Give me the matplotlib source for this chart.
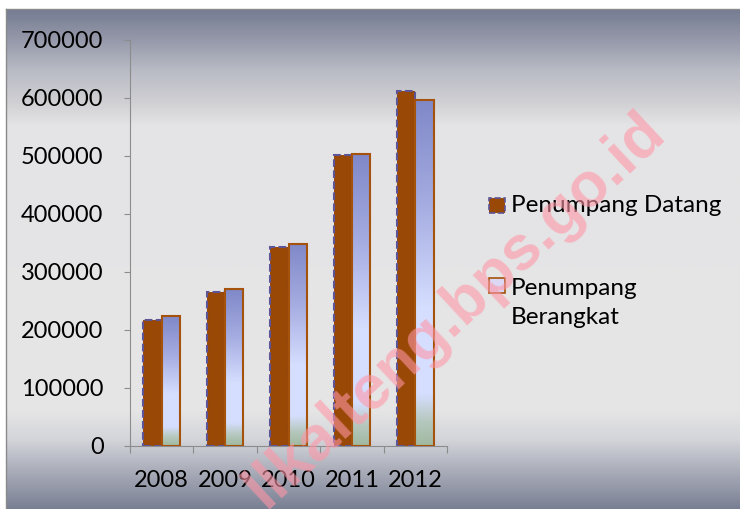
import numpy as np
import matplotlib.pyplot as plt
from matplotlib.patches import Rectangle
from matplotlib.lines import Line2D

years = ['2008', '2009', '2010', '2011', '2012']
datang = [218000, 265000, 343000, 501000, 612000]
berangkat = [224000, 270000, 349000, 503000, 596000]
yticks = [0, 100000, 200000, 300000, 400000, 500000, 600000, 700000]

plt.rcParams['font.family'] = ['Lato', 'DejaVu Sans']

W, H = 740, 509
fig = plt.figure(figsize=(W / 100, H / 100), dpi=100)


def vgrad(stops, n=256):
    """vertical gradient image, stops given top -> bottom"""
    pos = [s[0] for s in stops]
    cols = np.array([s[1] for s in stops], float) / 255
    t = np.linspace(0, 1, n)
    rgb = np.stack([np.interp(t, pos, cols[:, i]) for i in range(3)], axis=1)
    return rgb[:, None, :]


# chart background
bg = fig.add_axes([6 / W, 0, 734 / W, 500 / H], zorder=0)
bg.imshow(vgrad([(0.0, (118, 124, 146)), (0.062, (150, 154, 170)),
                 (0.122, (185, 187, 197)), (0.182, (207, 207, 211)),
                 (0.232, (228, 228, 230)), (0.802, (230, 230, 230)),
                 (0.862, (212, 213, 218)), (0.922, (172, 175, 187)),
                 (1.0, (122, 128, 148))]),
          aspect='auto', extent=[0, 1, 0, 1], interpolation='bilinear')
bg.axis('off')
fig.add_artist(Line2D([6 / W, 6 / W], [0, 500 / H], color='#8a8a8a', lw=1))
fig.add_artist(Line2D([6 / W, 1], [500 / H, 500 / H], color='#8a8a8a', lw=1))

ax = fig.add_axes([130 / W, 63 / H, 317 / W, 406 / H], zorder=1)
ax.patch.set_visible(False)

x = np.arange(len(years))
w = 0.29
brown = '#994806'

ax.bar(x - w / 2, datang, w, color=brown, edgecolor='#5e5596',
       linestyle='--', linewidth=1.5, zorder=2)

bar_grad = vgrad([(0.0, (128, 136, 200)), (0.3, (165, 172, 225)),
                  (0.6, (214, 222, 255)), (0.85, (214, 222, 255)),
                  (0.93, (182, 200, 190)), (1.0, (160, 185, 160))])
for xi, v in zip(x + w / 2, berangkat):
    ax.imshow(bar_grad, extent=[xi - w / 2, xi + w / 2, 0, v], aspect='auto',
              interpolation='bilinear', zorder=2)
ax.bar(x + w / 2, berangkat, w, fill=False, edgecolor='#a5520c',
       linewidth=1.5, zorder=3)

ax.set_xlim(-0.5, len(years) - 0.5)
ax.set_ylim(0, 700000)
ax.set_yticks(yticks)
ax.set_yticklabels([str(v) for v in yticks])
ax.set_xticks(np.arange(-0.5, len(years), 1))
ax.set_xticklabels([])
ax.set_xticks(x, minor=True)
ax.set_xticklabels(years, minor=True)

for s in ['top', 'right']:
    ax.spines[s].set_visible(False)
for s in ['left', 'bottom']:
    ax.spines[s].set_color('#8c8c8c')
ax.tick_params(axis='y', length=4, color='#8c8c8c', pad=15, labelsize=17)
ax.tick_params(axis='x', which='major', length=5, color='#8c8c8c')
ax.tick_params(axis='x', which='minor', length=0, pad=17, labelsize=17)

# legend
fig.add_artist(Rectangle((489 / W, 1 - 213 / H), 16 / W, 15 / H,
                         facecolor=brown, edgecolor='#5e5596', lw=1.2,
                         linestyle='--', transform=fig.transFigure))
fig.add_artist(Rectangle((489 / W, 1 - 293 / H), 16 / W, 15 / H,
                         facecolor='#dcd8f4', edgecolor='#a5520c', lw=1.2,
                         transform=fig.transFigure))
fig.text(511 / W, 1 - 206 / H, 'Penumpang Datang', fontsize=17.5, va='center')
fig.text(511 / W, 1 - 303 / H, 'Penumpang\nBerangkat', fontsize=17.5,
         va='center', linespacing=1.5)

# watermark
fig.text(667 / W, 1 - 135 / H, 'llkalteng.bps.go.id', rotation=43,
         rotation_mode='anchor', ha='right', va='baseline', fontsize=45,
         fontweight='bold', family=['Liberation Sans', 'DejaVu Sans'],
         color=(1.0, 0.59, 0.65), alpha=0.6, zorder=10)

plt.savefig('out.png', dpi=100)
plt.close()
